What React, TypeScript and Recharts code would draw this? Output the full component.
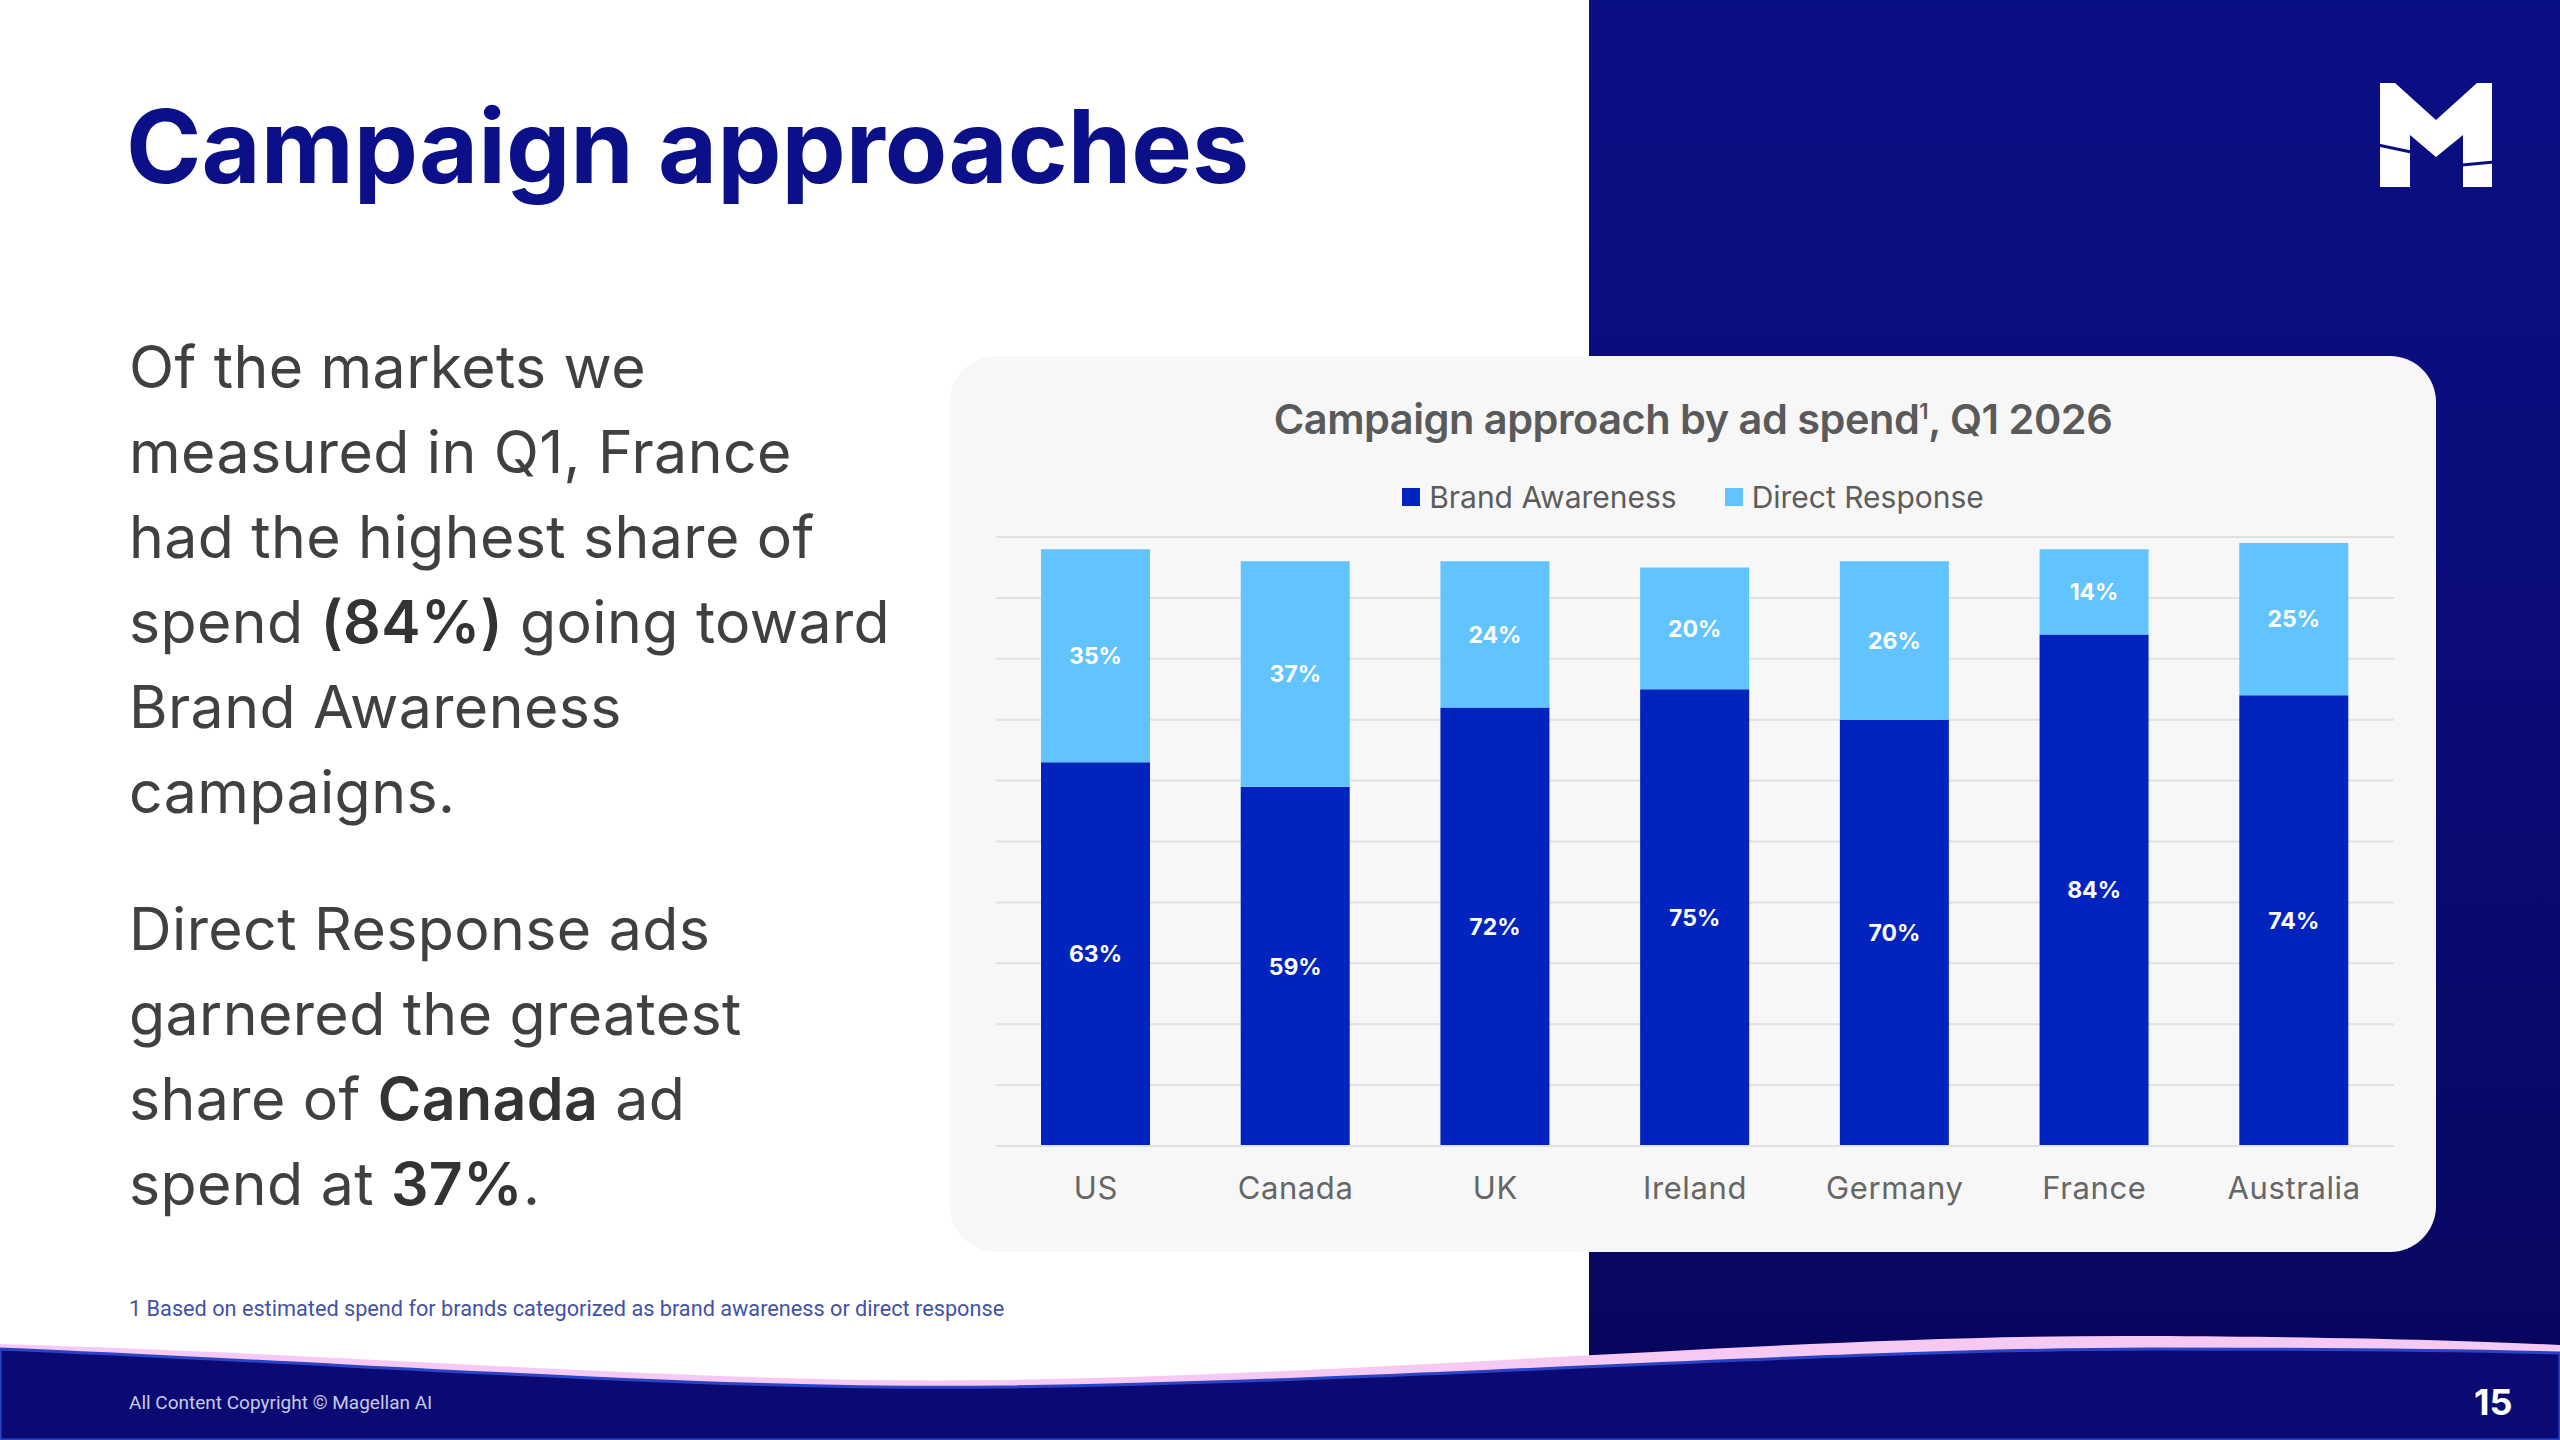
import React from "react";
import { BarChart, Bar, XAxis, YAxis, CartesianGrid, LabelList } from "recharts";

const markets = ["US", "Canada", "UK", "Ireland", "Germany", "France", "Australia"];
const brandAwareness = [63, 59, 72, 75, 70, 84, 74];
const directResponse = [35, 37, 24, 20, 26, 14, 25];
const yTicks = [0, 10, 20, 30, 40, 50, 60, 70, 80, 90, 100];

const BA_COLOR = "#0224BE";
const DR_COLOR = "#62C4FE";
const FONT = "Inter, 'Noto Sans', sans-serif";

const data = markets.map((m, i) => ({
  market: m,
  ba: brandAwareness[i],
  dr: directResponse[i],
}));

const series = [
  { key: "ba", name: "Brand Awareness", color: BA_COLOR },
  { key: "dr", name: "Direct Response", color: DR_COLOR },
];

const pct = (v: any) => `${v}%`;

function Logo() {
  return (
    <svg width={2560} height={300} style={{ position: "absolute", left: 0, top: 0 }}>
      <polygon
        points="2380,83 2395,83 2436,120 2477,83 2492,83 2492,187 2463,187 2463,135 2436,157 2410,135 2410,187 2380,187"
        fill="#ffffff"
      />
      <line x1={2378} y1={145} x2={2411} y2={152} stroke="#0b0e80" strokeWidth={3} />
      <line x1={2462} y1={165} x2={2494} y2={162} stroke="#0b0e80" strokeWidth={3} />
    </svg>
  );
}

function Footer() {
  return (
    <svg width={2560} height={1440} style={{ position: "absolute", left: 0, top: 0 }}>
      <path
        d="M0,1344 C400,1356 700,1384 1000,1380 C1400,1374 1800,1334 2150,1336 C2350,1337 2480,1341 2560,1345 L2560,1440 L0,1440 Z"
        fill="#f6c9f3"
      />
      <path
        d="M0,1349 C400,1366 700,1390 1000,1387 C1400,1382 1800,1350 2150,1349 C2350,1349 2480,1351 2560,1353 L2560,1440 L0,1440 Z"
        fill="#0b0a74"
        stroke="#2a44c8"
        strokeWidth={3}
      />
    </svg>
  );
}

const bodyStyle: React.CSSProperties = {
  position: "absolute",
  left: 129,
  fontSize: 59,
  lineHeight: "85px",
  color: "#404040",
  whiteSpace: "nowrap",
  letterSpacing: 0.4,
};

const strong: React.CSSProperties = { fontWeight: 600, color: "#333" };

export default function App() {
  return (
    <div
      style={{
        position: "absolute",
        left: 0,
        top: 0,
        width: 2560,
        height: 1440,
        overflow: "hidden",
        background: "#ffffff",
        fontFamily: FONT,
      }}
    >
      <div
        style={{
          position: "absolute",
          left: 1589,
          top: 0,
          width: 971,
          height: 1360,
          background: "linear-gradient(180deg, #0b0f84 0%, #0a0b78 50%, #07065e 100%)",
        }}
      />
      <Logo />

      <div
        style={{
          position: "absolute",
          left: 126,
          top: 84,
          fontSize: 102,
          fontWeight: 700,
          color: "#0c1088",
          letterSpacing: 0,
          whiteSpace: "nowrap",
        }}
      >
        Campaign approaches
      </div>

      <div style={{ ...bodyStyle, top: 324 }}>
        Of the markets we
        <br />
        measured in Q1, France
        <br />
        had the highest share of
        <br />
        spend <b style={strong}>(84%)</b> going toward
        <br />
        Brand Awareness
        <br />
        campaigns.
      </div>

      <div style={{ ...bodyStyle, top: 886 }}>
        Direct Response ads
        <br />
        garnered the greatest
        <br />
        share of <b style={strong}>Canada</b> ad
        <br />
        spend at <b style={strong}>37%</b>.
      </div>

      <div
        style={{
          position: "absolute",
          left: 129,
          top: 1296,
          fontSize: 21.7,
          fontFamily: "Roboto, sans-serif",
          color: "#4052a8",
          whiteSpace: "nowrap",
        }}
      >
        1 Based on estimated spend for brands categorized as brand awareness or direct response
      </div>

      <Footer />

      <div
        style={{
          position: "absolute",
          left: 129,
          top: 1391,
          fontSize: 19,
          fontFamily: "Roboto, sans-serif",
          color: "#c9c9e4",
          whiteSpace: "nowrap",
        }}
      >
        All Content Copyright © Magellan AI
      </div>
      <div
        style={{
          position: "absolute",
          left: 2474,
          top: 1380,
          fontSize: 36,
          fontWeight: 700,
          color: "#ffffff",
        }}
      >
        15
      </div>

      {/* chart card */}
      <div
        style={{
          position: "absolute",
          left: 950,
          top: 356,
          width: 1486,
          height: 896,
          borderRadius: 46,
          background: "#f7f7f7",
        }}
      >
        <div
          style={{
            position: "absolute",
            left: 0,
            width: 1486,
            top: 38,
            textAlign: "center",
            fontSize: 41.5,
            fontWeight: 600,
            color: "#5a5a5a",
            letterSpacing: -0.5,
          }}
        >
          Campaign approach by ad spend<sup style={{ fontSize: 22 }}>1</sup>, Q1 2026
        </div>
        <div
          style={{
            position: "absolute",
            left: 0,
            width: 1486,
            top: 123,
            display: "flex",
            justifyContent: "center",
            gap: 48,
            fontSize: 30,
            color: "#5c5c5c",
          }}
        >
          {series.map((s) => (
            <div key={s.key} style={{ display: "flex", alignItems: "center", gap: 9 }}>
              <span style={{ width: 18, height: 18, background: s.color, display: "inline-block" }} />
              <span>{s.name}</span>
            </div>
          ))}
        </div>

        <div style={{ position: "absolute", left: 0, top: 0 }}>
          <BarChart
            width={1486}
            height={896}
            data={data}
            margin={{ top: 181, right: 42, left: 46, bottom: 0 }}
          >
            <CartesianGrid vertical={false} stroke="#e1e1e1" strokeWidth={2} />
            <YAxis hide domain={[0, 100]} ticks={yTicks} />
            <XAxis
              dataKey="market"
              height={106}
              axisLine={{ stroke: "#e1e1e1", strokeWidth: 2 }}
              tickLine={false}
              tickSize={0}
              tickMargin={31}
              tick={{ fontSize: 31, fill: "#666666", fontFamily: FONT, letterSpacing: 0.6 }}
              interval={0}
            />
            {series.map((s) => (
              <Bar
                key={s.key}
                dataKey={s.key}
                name={s.name}
                stackId="a"
                fill={s.color}
                barSize={109}
                isAnimationActive={false}
              >
                <LabelList
                  dataKey={s.key}
                  position="center"
                  formatter={pct}
                  fill="#ffffff"
                  fontSize={23}
                  fontWeight={700}
                  fontFamily={FONT}
                />
              </Bar>
            ))}
          </BarChart>
        </div>
      </div>
    </div>
  );
}
